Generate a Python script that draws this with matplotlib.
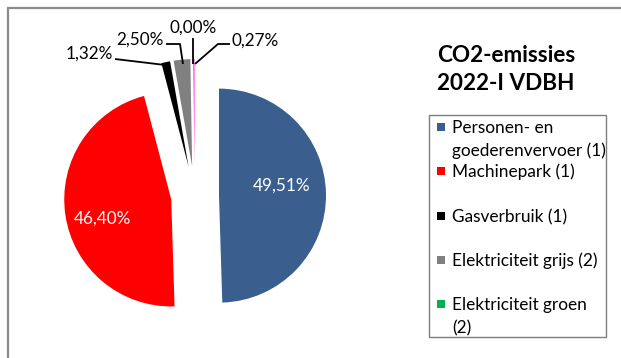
import matplotlib
matplotlib.use("Agg")
import matplotlib.pyplot as plt
from matplotlib.patches import Rectangle

# ---- data ----
categories = ["Personen- en\ngoederenvervoer (1)", "Machinepark (1)", "Gasverbruik (1)",
              "Elektriciteit grijs (2)", "Elektriciteit groen\n(2)", "Overig"]
values = [49.51, 46.40, 1.32, 2.50, 0.00, 0.27]
colors = ["#3A5F8F", "#FF0000", "#000000", "#808080", "#00B050", "#FF66DD"]
legend_count = 5
title = "CO2-emissies\n2022-I VDBH"

W, H = 621, 358
FONT = "Lato"
plt.rcParams['font.family'] = [FONT, 'DejaVu Sans']

fig = plt.figure(figsize=(W / 100, H / 100), dpi=100)
ax = fig.add_axes([0, 0, 1, 1])

def Y(y):  # image-pixel y -> data y
    return H - y

R = 107
cx, cy = 195, 196
explode = [24, 24, 30, 30, 30, 30]

ax.pie(values, colors=colors, radius=R, center=(cx, Y(cy)), startangle=90,
       counterclock=False, explode=explode, frame=True,
       wedgeprops=dict(linewidth=0))
ax.set_xlim(0, W)
ax.set_ylim(0, H)
ax.set_aspect('auto')
ax.axis("off")

def fmt(v):
    return f"{v:.2f}".replace(".", ",") + "%"

# inside labels
ax.text(282, Y(186), fmt(values[0]), color="white", fontsize=12.3, ha="center", va="center")
ax.text(102, Y(219), fmt(values[1]), color="white", fontsize=12.3, ha="center", va="center")

# outside labels with leader lines
lab = [
    (2, (89, 54), [(115, 59), (165, 65), (168, 68)]),
    (3, (140, 40), [(166, 44), (180, 44), (183, 64)]),
    (4, (193, 28), [(193, 38), (193, 64)]),
    (5, (255, 41), [(230, 44), (218, 44), (195, 64)]),
]
for idx, (tx, ty), pts in lab:
    ax.text(tx, Y(ty), fmt(values[idx]), color="black", fontsize=12.3, ha="center", va="center")
    ax.plot([p[0] for p in pts], [Y(p[1]) for p in pts], color="black", lw=1.3,
            solid_capstyle="butt")

# title
for k, line in enumerate(title.split("\n")):
    ax.text(506, Y(62 + 28 * k), line, fontsize=16.2, fontweight="bold",
            ha="center", va="baseline")

# legend (manual, Excel style)
ax.add_patch(Rectangle((429, Y(337)), 606 - 429, 337 - 115, fill=False,
                       edgecolor="#7F7F7F", lw=1))
baselines = [133, 177, 222, 266, 310]
for i in range(legend_count):
    b = baselines[i]
    ax.add_patch(Rectangle((437, Y(b - 2)), 8, 8, facecolor=colors[i], edgecolor="none"))
    for k, line in enumerate(categories[i].split("\n")):
        ax.text(452, Y(b + 23 * k), line, fontsize=12.4, ha="left", va="baseline")

# outer frame
ax.plot([7.5, 7.5], [0, Y(7.5)], color="#8C8C8C", lw=1.6, solid_capstyle="butt")
ax.plot([6.7, W], [Y(7.5), Y(7.5)], color="#8C8C8C", lw=1.6, solid_capstyle="butt")

fig.savefig("out.png", dpi=100)
